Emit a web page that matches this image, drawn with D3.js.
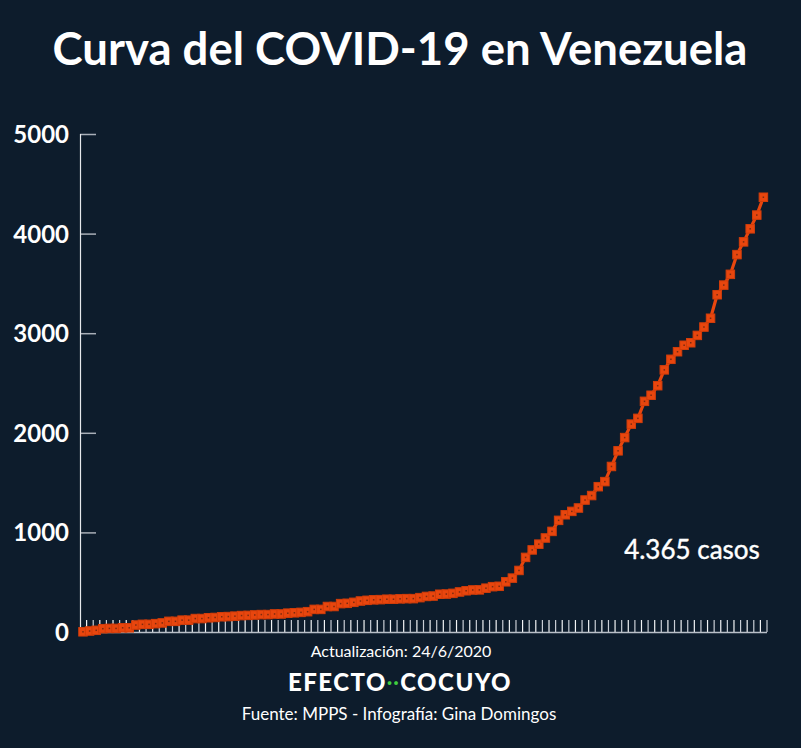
<!DOCTYPE html>
<html>
<head>
<meta charset="utf-8">
<script src="https://cdn.jsdelivr.net/npm/d3@7"></script>
<style>
  body { margin: 0; background: #0d1c2c; }
  svg { display: block; }
</style>
</head>
<body>
<div id="chart"></div>
<script>
// casos acumulados, 13/3/2020 - 24/6/2020
const casos = [
  2, 10, 17, 33, 36, 36, 42, 42, 70, 77, 77, 84, 91, 107, 107, 119, 119, 135, 135,
  143, 146, 153, 155, 159, 165, 167, 171, 175, 175, 181, 181, 189, 193, 197, 204,
  227, 227, 256, 256, 285, 288, 298, 311, 318, 323, 325, 329, 329, 333, 335, 335,
  345, 357, 361, 379, 381, 388, 402, 414, 422, 423, 440, 455, 459, 504, 541, 618,
  749, 824, 882, 944, 1010, 1121, 1177, 1211, 1245, 1325, 1370, 1459, 1510, 1662,
  1819, 1952, 2087, 2145, 2316, 2377, 2473, 2632, 2738, 2814, 2879, 2904, 2978,
  3062, 3150, 3386, 3483, 3591, 3789, 3917, 4048, 4186, 4365
]
const yTicks = [0, 1000, 2000, 3000, 4000, 5000]
const titulo = "Curva del COVID-19 en Venezuela"
const etiqueta = "4.365 casos"
const actualizacion = "Actualización: 24/6/2020"
const fuente = "Fuente: MPPS - Infografía: Gina Domingos"

const width = 801
const height = 748
const color = "#e8460e"

let svg = d3.select("#chart").append("svg")
    .attr("width", width)
    .attr("height", height)

svg.append("rect")
    .attr("width", width)
    .attr("height", height)
    .attr("fill", "#0d1c2c")

let dias = d3.range(casos.length)
let x = d3.scaleBand().domain(dias).range([80, 767]).paddingInner(0)
let y = d3.scaleLinear().domain([0, 5000]).range([632, 134])
let bw = x.bandwidth()
let px = d => x(d) + 3

svg.append("text")
    .attr("x", 400)
    .attr("y", 65)
    .attr("text-anchor", "middle")
    .attr("fill", "#fff")
    .style("font-family", "Lato")
    .style("font-weight", "bold")
    .style("font-size", "45.5px")
    .text(titulo)

// eje y
let yAxis = svg.append("g")
    .attr("transform", "translate(80,0)")
    .call(d3.axisRight(y).tickValues(yTicks).tickSize(16).tickFormat(""))
yAxis.select(".domain").remove()
yAxis.selectAll(".tick line").attr("stroke", "#a9afb8").attr("stroke-width", 1.5)

svg.append("line")
    .attr("x1", 80.5).attr("x2", 80.5)
    .attr("y1", y(5000)).attr("y2", y(0))
    .attr("stroke", "#e6e8ec")
    .attr("stroke-width", 1.2)

svg.selectAll(".ylab")
    .data(yTicks)
    .enter().append("text")
    .attr("class", "ylab")
    .attr("x", 69)
    .attr("y", d => y(d) + 9)
    .attr("text-anchor", "end")
    .attr("fill", "#fff")
    .style("font-family", "Lato")
    .style("font-weight", "bold")
    .style("font-size", "24px")
    .text(d => d)

// eje x
let xAxis = svg.append("g")
    .attr("transform", "translate(" + bw + ",632)")
    .call(d3.axisTop(x).tickSize(12).tickFormat(""))
xAxis.select(".domain").remove()
xAxis.selectAll(".tick line")
    .attr("transform", "translate(" + (-bw / 2) + ",0)")
    .attr("stroke", (d, i) => i % 2 ? "#c9ced6" : "#f2f4f6")
    .attr("stroke-width", 1.2)

svg.append("line")
    .attr("x1", 80).attr("x2", 767)
    .attr("y1", 632.5).attr("y2", 632.5)
    .attr("stroke", "#b9bfc8")
    .attr("stroke-width", 1.5)

// curva
let line = d3.line()
    .x((d, i) => px(i))
    .y(d => y(d))

svg.append("path")
    .datum(casos)
    .attr("fill", "none")
    .attr("stroke", color)
    .attr("stroke-width", 3.2)
    .attr("d", line)

let marks = svg.selectAll(".mark")
    .data(casos)
    .enter().append("g")
    .attr("transform", (d, i) => "translate(" + px(i) + "," + y(d) + ")")
marks.append("rect")
    .attr("x", -4.25).attr("y", -4.25)
    .attr("width", 8.5).attr("height", 8.5)
    .attr("fill", color)
    .attr("stroke", "#d23d0a")
    .attr("stroke-width", 1)
marks.append("rect")
    .attr("x", -0.75).attr("y", -0.75)
    .attr("width", 1.5).attr("height", 1.5)
    .attr("fill", "#7a2a10")

svg.append("text")
    .attr("x", 692)
    .attr("y", 559)
    .attr("text-anchor", "middle")
    .attr("fill", "#fff")
    .style("font-family", "Lato")
    .style("font-size", "26px")
    .style("stroke", "#fff")
    .style("stroke-width", 0.4)
    .text(etiqueta)

// pie
svg.append("text")
    .attr("x", 401)
    .attr("y", 657)
    .attr("text-anchor", "middle")
    .attr("fill", "#fff")
    .style("font-family", "Lato")
    .style("font-size", "16px")
    .text(actualizacion)

let logo = svg.append("text")
    .attr("x", 400)
    .attr("y", 691)
    .attr("text-anchor", "middle")
    .attr("fill", "#fff")
    .style("font-family", "Lato")
    .style("font-weight", "900")
    .style("font-size", "24px")
    .style("letter-spacing", "1.5px")
logo.append("tspan").text("EFECTO")
logo.append("tspan").attr("fill", "#3fcf3f").style("font-size", "18px").attr("dy", -2).text("··")
logo.append("tspan").attr("dy", 2).text("COCUYO")

svg.append("text")
    .attr("x", 399)
    .attr("y", 720)
    .attr("text-anchor", "middle")
    .attr("fill", "#fff")
    .style("font-family", "Lato")
    .style("font-size", "17px")
    .text(fuente)
</script>
</body>
</html>
